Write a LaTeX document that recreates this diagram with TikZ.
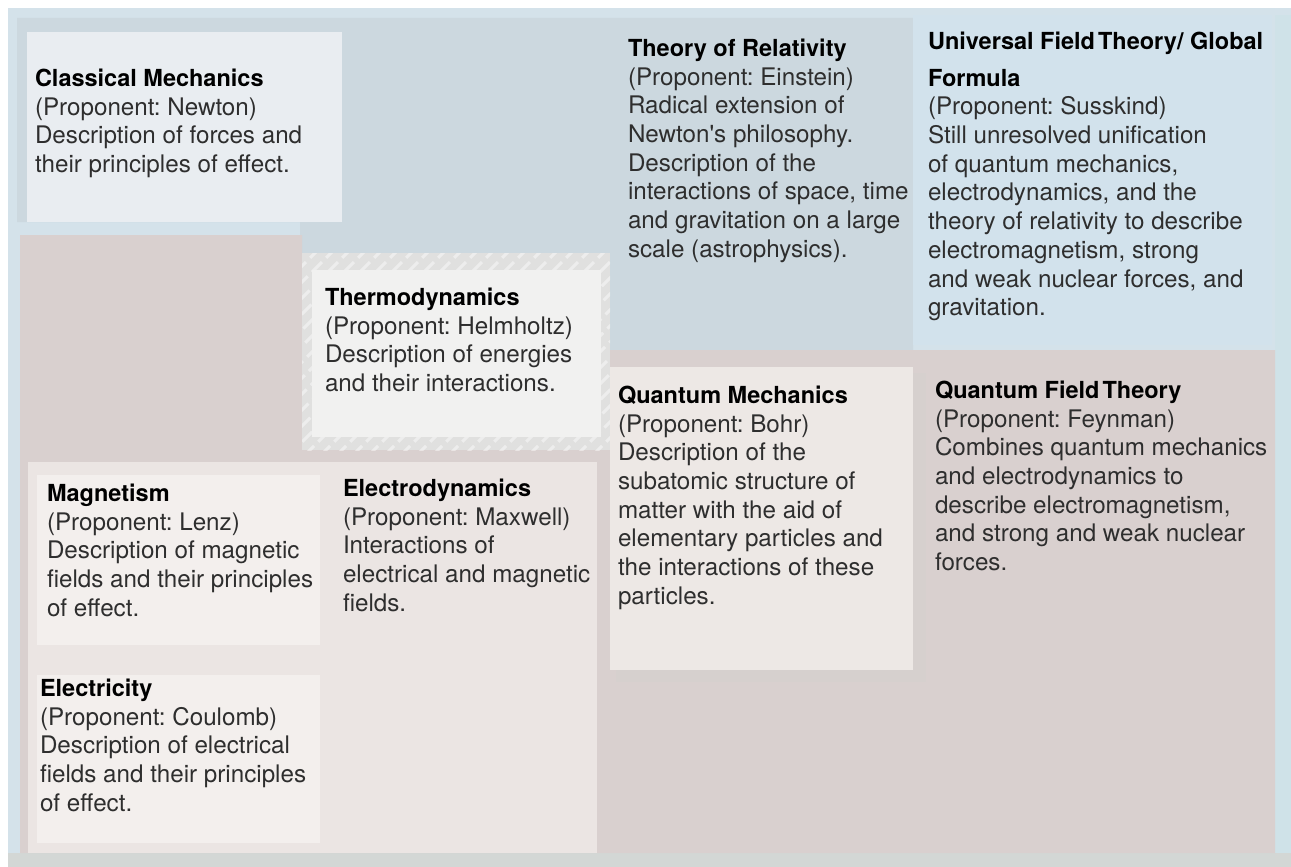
\documentclass[tikz,border=0pt]{standalone}
\usepackage{fontspec}
\setmainfont{TeX Gyre Heros}
\frenchspacing
\definecolor{framebg}{HTML}{D4E2EA}
\definecolor{bluegray}{HTML}{CCD8DF}
\definecolor{ufbg}{HTML}{D2E2EC}
\definecolor{classic}{HTML}{E9EDF1}
\definecolor{rosegray}{HTML}{D9D0CF}
\definecolor{qmbg}{HTML}{EDE8E5}
\definecolor{shadowbg}{HTML}{D6D0CE}
\definecolor{container}{HTML}{EBE5E3}
\definecolor{card}{HTML}{F3EFED}
\definecolor{thermoin}{HTML}{F1F1F0}
\definecolor{thermoframe}{HTML}{E0E0DF}
\definecolor{bottomstrip}{HTML}{D3D7D5}
\definecolor{rightstrip}{HTML}{CFE2E8}
\definecolor{bodytext}{HTML}{2E2E2E}
\newcommand\fieldtitle[1]{\textcolor{black}{\fontsize{23.5}{28.7}\selectfont\bfseries #1}}
\begin{document}
\begin{tikzpicture}[x=1pt,y=-1pt,
  every node/.style={inner sep=0pt,outer sep=0pt},
  fieldtext/.style={anchor=north west,align=left,
    font=\fontsize{24.2}{28.7}\selectfont,text=bodytext}]
\useasboundingbox (0,0) rectangle (1291,867);
% page and outer frame
\fill[white] (0,0) rectangle (1291,867);
\fill[framebg] (8,8) rectangle (1291,867);
\fill[rightstrip] (1275,15) rectangle (1291,853);
\fill[bottomstrip] (8,853) rectangle (1291,867);
% upper band
\fill[bluegray] (17,18) -- (913,18) -- (913,350) -- (300,350)
  -- (300,222) -- (17,222) -- cycle;
\fill[ufbg] (913,15) rectangle (1272,345);
% lower band
\fill[rosegray] (20,235) -- (302,235) -- (302,350) -- (1275,350)
  -- (1275,853) -- (20,853) -- cycle;
% classical mechanics card
\fill[classic] (27,32) rectangle (342,222);
% thermodynamics card with hatched frame
\fill[thermoframe] (302,253) rectangle (610,450);
\begin{scope}
  \clip (302,253) rectangle (610,450);
  \foreach \k in {0,16,...,540}
    \draw[white,line width=3pt,opacity=0.45,dash pattern=on 14pt off 6pt]
      (302+\k-220,470) -- (302+\k,250);
\end{scope}
\fill[thermoin] (312,270) rectangle (601,437);
% quantum mechanics card
\fill[shadowbg] (616,373) rectangle (926,682);
\fill[qmbg] (610,367) rectangle (913,670);
% quantum field theory
\fill[rosegray] (927,355) rectangle (1275,845);
% lower left container with two cards
\fill[container] (28,462) rectangle (597,853);
\fill[card] (37,475) rectangle (320,645);
\fill[card] (37,675) rectangle (320,843);

% texts
\node[fieldtext] (cm) at (35,66.4)
  {\strut\fieldtitle{Classical Mechanics}\\(Proponent: Newton)\\Description of forces and\\their principles of effect.};
\node[fieldtext] (tor) at (628,36.4)
  {\strut\fieldtitle{Theory of Relativity}\\(Proponent: Einstein)\\Radical extension of\\Newton\textquotesingle s philosophy.\\Description of the\\interactions of space, time\\and gravitation on a large\\scale (astrophysics).};
\node[fieldtext] (uft) at (928,29.4)
  {\strut\fieldtitle{Universal Field\kern-0.15em\ Theory/ Global}\\[8pt]\fieldtitle{Formula}\\(Proponent: Susskind)\\Still unresolved unification\\of quantum mechanics,\\electrodynamics, and the\\theory of relativity to describe\\electromagnetism, strong\\and weak nuclear forces, and\\gravitation.};
\node[fieldtext] (td) at (325,285.4)
  {\strut\fieldtitle{Thermodynamics}\\(Proponent: Helmholtz)\\Description of energies\\and their interactions.};
\node[fieldtext] (qm) at (618,383.4)
  {\strut\fieldtitle{Quantum Mechanics}\\(Proponent: Bohr)\\Description of the\\subatomic structure of\\matter with the aid of\\elementary particles and\\the interactions of these\\particles.};
\node[fieldtext] (qft) at (935,378.4)
  {\strut\fieldtitle{Quantum Field\kern-0.15em\ Theory}\\(Proponent: Feynman)\\Combines quantum mechanics\\and electrodynamics to\\describe electromagnetism,\\and strong and weak nuclear\\forces.};
\node[fieldtext] (mag) at (47,481.4)
  {\strut\fieldtitle{Magnetism}\\(Proponent: Lenz)\\Description of magnetic\\fields and their principles\\of effect.};
\node[fieldtext] (ed) at (343,476.4)
  {\strut\fieldtitle{Electrodynamics}\\(Proponent: Maxwell)\\Interactions of\\electrical and magnetic\\fields.};
\node[fieldtext] (el) at (40,676.4)
  {\strut\fieldtitle{Electricity}\\(Proponent: Coulomb)\\Description of electrical\\fields and their principles\\of effect.};
\end{tikzpicture}
\end{document}
